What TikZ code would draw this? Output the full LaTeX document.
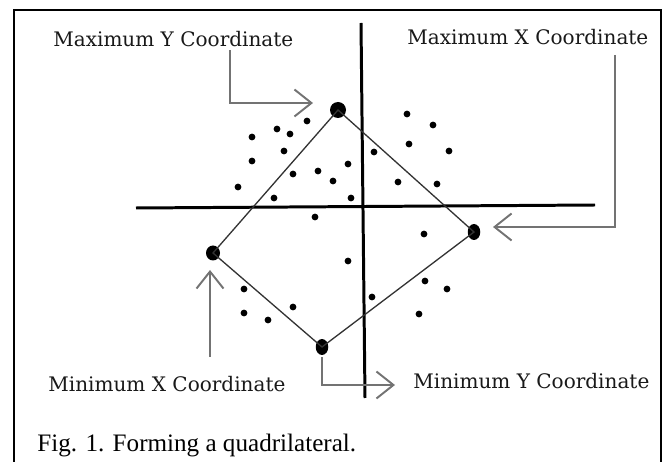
\documentclass[tikz,border=0pt]{standalone}
\usepackage{fontspec}
\setmainfont{Liberation Serif}
\newfontfamily\labelfont{DejaVu Serif}
\usetikzlibrary{arrows.meta,shapes.geometric}

\begin{document}
\begin{tikzpicture}[x=0.02cm, y=-0.02cm,
  vertex/.style={ellipse, fill, inner sep=0pt, minimum width=0.25cm, minimum height=0.32cm},
  edge/.style={draw=black!80, line width=0.75pt},
  axis/.style={draw, line width=1.7pt},
  pointer/.style={draw=black!55, line width=1.1pt, -{Straight Barb[length=3.4mm, width=5.4mm]}},
  lbl/.style={font=\labelfont\fontsize{11.4}{13}\selectfont, text=black!90, inner sep=0pt, anchor=base west}]
\useasboundingbox (0,0) rectangle (666,462);
% frame, cut off at the bottom
\draw[line width=0.8pt] (14,462) -- (14,10) -- (661,10) -- (661,462);

% axes
\draw[axis] (136,208) -- (595,205);
\draw[axis] (361,23) -- (365,398);

% scattered points
\foreach \px/\py in {307/121, 277/129, 290/134, 252/137, 284/151, 252/161, 348/164,
  318/171, 293/174, 333/181, 238/187, 274/198, 351/198, 315/217, 348/261,
  407/114, 433/125, 409/144, 449/151, 374/152, 398/182, 437/184, 424/234,
  425/281, 447/289, 372/297, 419/314, 244/289, 244/313, 293/307, 268/320}
  \fill (\px,\py) circle (3.4);

% extreme points and the quadrilateral
\node[vertex, minimum width=0.32cm] (vtop) at (338,110) {};
\node[vertex] (vright) at (474,232) {};
\node[vertex] (vbottom) at (322,347) {};
\node[vertex, minimum width=0.28cm, minimum height=0.3cm] (vleft) at (213,253) {};
\draw[edge] (vtop.center) -- (vright.center) -- (vbottom.center) -- (vleft.center) -- cycle;

% labels
\node[lbl] (lblmaxy) at (53,47) {Maximum Y Coordinate};
\node[lbl] (lblmaxx) at (407,45) {Maximum X Coordinate};
\node[lbl] (lblminx) at (48,392) {Minimum X Coordinate};
\node[lbl] (lblminy) at (413,389) {Minimum Y Coordinate};
\node[anchor=base west, inner sep=0pt, font=\fontsize{14.3}{16}\selectfont] (caption) at (37,452) {Fig. 1. Forming a quadrilateral.};

% pointers
\coordinate (maxyfrom) at (230,50);  \coordinate (maxyto) at (313,103);
\coordinate (maxxfrom) at (615,55);  \coordinate (maxxto) at (493,227);
\coordinate (minxfrom) at (210,357); \coordinate (minxto) at (210,270);
\coordinate (minyfrom) at (322,357); \coordinate (minyto) at (395,385);
\draw[pointer] (maxyfrom) |- (maxyto);
\draw[pointer] (maxxfrom) |- (maxxto);
\draw[pointer] (minxfrom) -- (minxto);
\draw[pointer] (minyfrom) |- (minyto);
\end{tikzpicture}
\end{document}
